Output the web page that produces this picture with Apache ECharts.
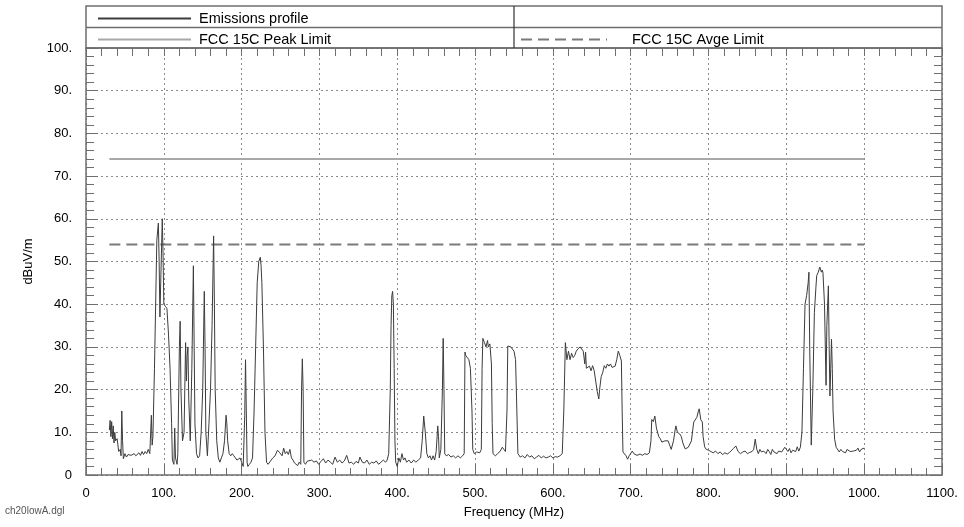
<!DOCTYPE html>
<html>
<head>
<meta charset="utf-8">
<script src="https://cdn.jsdelivr.net/npm/echarts@6/dist/echarts.min.js"></script>
<style>html,body{margin:0;padding:0;background:#fff}#c{width:964px;height:527px}</style>
</head>
<body>
<div id="c"></div>
<script>
// ---- data ----
const seriesNames = ['Emissions profile', 'FCC 15C Peak Limit', 'FCC 15C Avge Limit'];
const freqTicks = [0,100,200,300,400,500,600,700,800,900,1000,1100];
const levelTicks = [0,10,20,30,40,50,60,70,80,90,100];

const emFreq = [30,31,32,33,34,35,36,37,38,40,42,44,45,46,47,48,50,52,54,56,58,60,62,64,66,68,70,72,74,76,78,80,82,84,85,86,88,90,91,93,94,95,96,98,99,100,102,104,106,108,110,111,113,114,115,117,
118,120,121,122,124,126,128,129,130,131,132,134,136,138,139,140,142,144,146,148,150,152,153,154,156,158,160,162,164,165,166,168,170,172,174,176,178,180,181,182,184,186,188,190,192,194,196,198,200,202,204,205,206,207,208,210,212,214,216,218,220,222,224,225,226,228,230,232,234,236,238,
240,243,246,249,252,254,256,258,260,262,264,266,268,270,272,274,276,277,278,279,280,282,284,286,290,293,296,299,302,305,308,311,314,317,320,323,326,329,332,335,338,341,344,347,350,352,355,358,361,364,367,370,373,376,379,382,385,387,389,391,392,393,394,395,396,397,398,400,402,404,406,408,410,412,415,418,421,424,427,430,432,434,436,438,440,442,444,446,448,450,452,453,454,456,458,459,460,461,463,466,469,472,475,478,481,484,486,487,488,490,492,493,494,496,497,499,502,504,506,508,509,510,512,514,516,517,519,521,522,523,526,529,532,535,537,539,541,542,544,546,548,550,552,553,555,558,
561,564,567,570,573,576,579,582,585,588,591,594,597,600,603,606,609,612,614,616,618,620,622,624,626,628,630,632,635,637,639,641,642,643,645,647,649,651,653,655,657,659,660,662,664,666,668,670,672,674,676,678,680,682,684,686,688,689,690,692,694,696,698,700,702,704,706,708,710,712,715,718,721,724,726,727,729,731,733,734,736,738,740,742,744,746,748,750,752,753,755,757,758,760,762,763,765,767,770,772,774,776,778,780,781,783,785,787,788,790,792,793,795,797,800,803,806,809,812,815,818,821,824,827,829,832,835,838,841,844,847,850,853,856,858,860,862,864,866,868,871,874,876,878,880,882,884,886,888,890,892,894,896,898,900,902,904,906,908,910,912,914,916,918,920,922,924,926,928,929,930,932,934,936,938,939,941,943,945,946,947,949,951,952,954,955,956,957,958,959,960,962,964,966,968,970,972,974,976,978,980,982,984,986,988,990,992,994,996,998,1000];

const emLevel = [10.5,12.8,9,12.5,8.5,11.5,7.5,10,8,8.5,5.5,6,4.5,15,8,3.8,5,4.2,4.8,4.5,4.6,4.2,5,4.5,4.8,5.2,4.6,5.5,4.8,5.5,5,6,5,14,7,9,25,45,55,59,50,37,45,60,52,40,39.5,39,33,25,12,3.5,2.5,11,4,2.5,
5,30,36,20,8,10,31,22,28,30,18,8,25,49,30,12,5,4,4.5,10,20,43,30,10,4.5,12,20,35,56,40,20,8,4,3,4,5,8,14,12,8,5,4.5,5,4.5,4,3.5,3.5,4,3,2,14,27,15,3,2,2.5,3,4,15,30,45,50,51,49,45,30,10,3,2.5,2.2,3.5,
4,4.5,5.8,5.2,4.5,6.3,5,5.5,4.8,6,4,3.5,2.8,2.5,2.2,3,2.5,20,27.2,20,3,2.5,3.2,2.8,3.5,3,3.3,2.5,3.2,3.8,2.8,3.5,3,2.5,4.2,3,3.5,2.8,3.3,4.6,2.8,3,2.5,3.2,2.8,4.2,3,2.8,3.5,2.5,3,2.8,3.3,2.5,3,3.5,3,3.5,5,20,35,42,43,40,25,8,3,2,4,3,5,3.5,4,3,3.5,2.8,3.5,3,3.5,4,8,13.8,10,5,4,4.5,3.5,4.5,3.5,5.5,11.5,9,4,6,20,32,20,5,4.5,4.8,4.2,4.5,4,4.5,4,4.5,5,28.8,28,27.5,27,27,25,15,6,5,5.4,5,5.2,6,25,32,31,30,31.5,30,30.7,26,12,5,4.5,5,5.5,6.5,6,5.5,15,30.2,30.5,30,29.5,29,27,20,5,4.2,
4.5,4,4.8,4.2,4.5,3.8,4.2,4.6,4,4.4,4,4.2,4.5,4,4.3,4.2,4.5,5,15,31,27,29,27,28.5,27.5,28,29,29.5,30,29.5,29,26,28.8,25,24.8,25.5,24.4,25.6,24.5,22,19.5,17.8,20,23,24,25.6,25,26,25.5,26,25.2,24.8,25.5,27,29,28,26.7,15,5.4,5,4.5,3.7,4.5,4.2,5.6,5,4.8,4.6,5,4.9,4.6,5,4.8,5.2,8,13,12.5,13.8,11,10.8,9,8.5,7.7,7.5,8,7.8,8,7,6,5.6,8,10.5,11.5,10,9.8,9.6,9,7.5,6.1,6.2,6.5,6.8,8,11,12.4,12,13.5,15,15.5,13,12.4,9,6.6,6,5.8,5.5,5.2,5.6,5,5.4,4.8,5.2,4.9,5.3,5.2,6.2,6.8,5.5,5,5.4,5.6,5,5.3,5.5,6,8.4,6,5,6,5.4,5.6,5,6,5.5,4.8,6,5.4,5.8,5,5.6,6,5.4,5.8,6.5,6,5.5,6.2,5.2,5.8,6,5.5,6.6,5.6,6.5,10,25,40,42,45,47.5,30,7,20,38,44,46.7,47.5,48.7,47.5,48,47.5,40,21,35,44.3,30,18.5,25,31.8,25,15,8.4,6.5,6.1,5.4,6,5.5,5.8,5.2,6,5.6,5.5,5.8,5.6,5.2,5.8,6.3,5.4,6,5.8,6.3];

const limitFreq = [30, 1000];
const peakLimit = [74, 74];
const avgLimit = [54, 54];

// ---- chart ----
const zip = (xs, ys) => xs.map((x, i) => [x, ys[i]]);
const FONT = '"Liberation Sans", Arial, sans-serif';
const chart = echarts.init(document.getElementById('c'), null, {renderer: 'canvas'});
const fmt = v => v === 0 ? '0' : v + '.';
const axisColor = '#6e6e6e';

const baseX = {type: 'value', min: 0, max: 1100, interval: 100, gridIndex: 0};
const baseY = {type: 'value', min: 0, max: 100, interval: 10, gridIndex: 0};

const legendText = {fontFamily: FONT, fontSize: 14.5, color: '#000'};
const legendCommon = {itemHeight: 10, selectedMode: false, itemStyle: {opacity: 0}, padding: 0};

chart.setOption({
  animation: false,
  backgroundColor: '#fff',
  grid: {left: 86, right: 22, top: 48, bottom: 52, show: false},
  legend: [
    Object.assign({data: [seriesNames[0]], left: 97, top: 11, itemWidth: 93,
      textStyle: Object.assign({padding: [0,0,0,3]}, legendText)}, legendCommon),
    Object.assign({data: [seriesNames[1]], left: 97, top: 32, itemWidth: 93,
      textStyle: Object.assign({padding: [0,0,0,3]}, legendText)}, legendCommon),
    Object.assign({data: [seriesNames[2]], left: 520, top: 32, itemWidth: 86,
      textStyle: Object.assign({padding: [0,0,0,20]}, legendText)}, legendCommon)
  ],
  xAxis: [
    Object.assign({}, baseX, {
      position: 'bottom',
      name: 'Frequency (MHz)', nameLocation: 'middle', nameGap: 31,
      nameTextStyle: {fontFamily: FONT, fontSize: 13, color: '#000'},
      axisLine: {show: true, onZero: false, lineStyle: {color: axisColor, width: 1.5}},
      axisTick: {show: true, inside: true, length: 11, lineStyle: {color: axisColor}},
      minorTick: {show: true, splitNumber: 5, length: 7, lineStyle: {color: axisColor}},
      axisLabel: {formatter: fmt, margin: 12, fontFamily: FONT, fontSize: 13, color: '#000'},
      splitLine: {show: true, lineStyle: {type: [2, 3], color: '#8a8a8a', width: 1}}
    }),
    Object.assign({}, baseX, {
      position: 'top',
      axisLine: {show: true, onZero: false, lineStyle: {color: axisColor, width: 1.5}},
      axisTick: {show: true, inside: true, length: 8, lineStyle: {color: axisColor}},
      minorTick: {show: true, splitNumber: 5, length: 8, lineStyle: {color: axisColor}},
      axisLabel: {show: false},
      splitLine: {show: false}
    })
  ],
  yAxis: [
    Object.assign({}, baseY, {
      position: 'left',
      name: 'dBuV/m', nameLocation: 'middle', nameGap: 51, nameRotate: 90,
      nameTextStyle: {fontFamily: FONT, fontSize: 13, color: '#000'},
      axisLine: {show: true, onZero: false, lineStyle: {color: axisColor, width: 1.5}},
      axisTick: {show: true, inside: true, length: 12, lineStyle: {color: axisColor}},
      minorTick: {show: true, splitNumber: 5, length: 8, lineStyle: {color: axisColor}},
      axisLabel: {formatter: fmt, margin: 14, fontFamily: FONT, fontSize: 13, color: '#000'},
      splitLine: {show: true, lineStyle: {type: [2, 3], color: '#8a8a8a', width: 1}}
    }),
    Object.assign({}, baseY, {
      position: 'right',
      axisLine: {show: true, onZero: false, lineStyle: {color: axisColor, width: 1.5}},
      axisTick: {show: true, inside: true, length: 12, lineStyle: {color: axisColor}},
      minorTick: {show: true, splitNumber: 5, length: 8, lineStyle: {color: axisColor}},
      axisLabel: {show: false},
      splitLine: {show: false}
    })
  ],
  graphic: [
    {type: 'rect', shape: {x: 86, y: 6, width: 856, height: 42}, style: {fill: 'none', stroke: axisColor, lineWidth: 1.5}, silent: true, z: 100},
    {type: 'line', shape: {x1: 86, y1: 27.5, x2: 942, y2: 27.5}, style: {stroke: axisColor, lineWidth: 1.5}, silent: true, z: 100},
    {type: 'line', shape: {x1: 514, y1: 6, x2: 514, y2: 48}, style: {stroke: '#333', lineWidth: 1.2}, silent: true, z: 100},
    {type: 'text', left: 5, top: 506, style: {text: 'ch20lowA.dgl', fontFamily: FONT, fontSize: 10, fill: '#555'}, silent: true}
  ],
  series: [
    {name: seriesNames[0], type: 'line', xAxisIndex: 0, yAxisIndex: 0, data: zip(emFreq, emLevel),
     symbol: 'none', lineStyle: {color: '#3c3c3c', width: 1}, itemStyle: {color: '#3c3c3c'}, z: 5},
    {name: seriesNames[1], type: 'line', xAxisIndex: 0, yAxisIndex: 0, data: zip(limitFreq, peakLimit),
     symbol: 'none', lineStyle: {color: '#a8a8a8', width: 2}, itemStyle: {color: '#a8a8a8'}, z: 4},
    {name: seriesNames[2], type: 'line', xAxisIndex: 0, yAxisIndex: 0, data: zip(limitFreq, avgLimit),
     symbol: 'none', lineStyle: {color: '#7a7a7a', width: 2, type: [11, 6]}, itemStyle: {color: '#7a7a7a'}, z: 4}
  ]
});
</script>
</body>
</html>
